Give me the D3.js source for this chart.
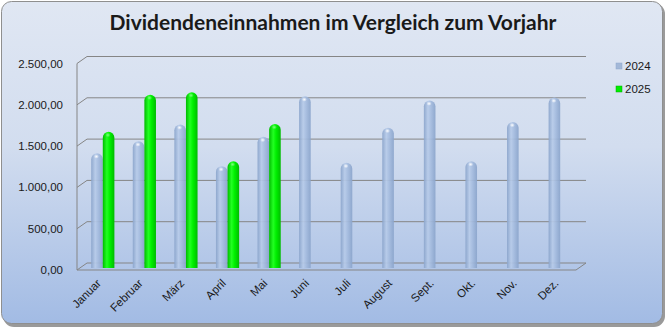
<!DOCTYPE html>
<html>
<head>
<meta charset="utf-8">
<script src="https://cdn.jsdelivr.net/npm/d3@7"></script>
<style>
  html, body { margin: 0; padding: 0; background: #ffffff; }
  svg { display: block; }
  text { font-family: "Liberation Sans", Arial, sans-serif; fill: #1a1a1a; }
</style>
</head>
<body>
<script>
// Monthly dividend income, previous year vs. current year
const months = ["Januar", "Februar", "März", "April", "Mai", "Juni", "Juli", "August", "Sept.", "Okt.", "Nov.", "Dez."];
const series = ["2024", "2025"];
const values2024 = [1370, 1515, 1720, 1215, 1570, 2060, 1255, 1680, 2010, 1275, 1750, 2045];
const values2025 = [1630, 2080, 2110, 1275, 1725, null, null, null, null, null, null, null];
const yTicks = [0, 500, 1000, 1500, 2000, 2500];
const yTickLabels = ["0,00", "500,00", "1.000,00", "1.500,00", "2.000,00", "2.500,00"];

const W = 666, H = 328;
const svg = d3.select("body").append("svg").attr("width", W).attr("height", H);
const defs = svg.append("defs");

// chart background
const bg = defs.append("linearGradient").attr("id", "bg").attr("x1", 0).attr("y1", 0).attr("x2", 0).attr("y2", 1);
bg.append("stop").attr("offset", "0%").attr("stop-color", "#e0e7f3");
bg.append("stop").attr("offset", "45%").attr("stop-color", "#d2ddef");
bg.append("stop").attr("offset", "100%").attr("stop-color", "#a2bbe4");

svg.append("rect").attr("x", 3).attr("y", 3).attr("width", 662).attr("height", 324).attr("rx", 11)
  .attr("fill", "#9a9a9a");
svg.append("rect").attr("x", 1.5).attr("y", 1.5).attr("width", 661).attr("height", 322).attr("rx", 10)
  .attr("fill", "url(#bg)").attr("stroke", "#8f8f8f").attr("stroke-width", 1);

// title
svg.append("text").attr("x", 333).attr("y", 30).attr("text-anchor", "middle")
  .style("font-family", "Lato, 'Open Sans', sans-serif").style("font-weight", "bold").style("font-size", "21px")
  .attr("fill", "#000").text("Dividendeneinnahmen im Vergleich zum Vorjahr");

// pseudo-3D frame: front edge, back wall, and the depth between them
const depthX = 10, depthY = -7;
const frontLeft = 77, frontRight = 576;
const yFront = d3.scaleLinear().domain([0, 2500]).range([270, 63.5]);
const yBack = v => yFront(v) + depthY;
const yMid = v => yFront(v) + depthY / 2;

const grid = svg.append("g").attr("stroke", "#858585").attr("stroke-width", 1).attr("fill", "none");
yTicks.forEach(v => {
  grid.append("path").attr("d",
    `M${frontLeft},${yFront(v)}L${frontLeft + depthX},${yBack(v)}L${frontRight + depthX},${yBack(v)}`);
});
grid.append("path").attr("d", `M${frontLeft},${yFront(0)}V${yFront(2500)}`);
// floor front edge
grid.append("path").attr("d",
  `M${frontLeft},${yFront(0)}H${frontRight}L${frontRight + depthX},${yBack(0)}`);

// y axis labels
svg.append("g").selectAll("text").data(yTicks).join("text")
  .attr("x", 63).attr("y", d => yFront(d)).attr("dy", "0.35em").attr("text-anchor", "end")
  .style("font-size", "11.5px").text((d, i) => yTickLabels[i]);

// category and series scales (bars stand at half depth)
const x = d3.scaleBand().domain(months).range([frontLeft + depthX / 2, frontRight + depthX / 2]);
const bw = x.bandwidth();
const xs = d3.scaleBand().domain(series).range([bw / 2 - 11.6, bw / 2 + 11.6]);
const barW = xs.bandwidth();

// cylinder shading
function cylGrad(id, edge, mid, light) {
  const g = defs.append("linearGradient").attr("id", id).attr("x1", 0).attr("y1", 0).attr("x2", 1).attr("y2", 0);
  g.append("stop").attr("offset", "0%").attr("stop-color", edge);
  g.append("stop").attr("offset", "35%").attr("stop-color", light);
  g.append("stop").attr("offset", "60%").attr("stop-color", mid);
  g.append("stop").attr("offset", "100%").attr("stop-color", edge);
}
cylGrad("c2024", "#8aa4cb", "#a5bcdf", "#b7cbe9");
cylGrad("c2025", "#00bb00", "#00f000", "#22ff22");
const hl = defs.append("radialGradient").attr("id", "hl");
hl.append("stop").attr("offset", "0%").attr("stop-color", "#ffffff").attr("stop-opacity", 1);
hl.append("stop").attr("offset", "100%").attr("stop-color", "#ffffff").attr("stop-opacity", 0);

const rows = [];
months.forEach((m, i) => {
  rows.push({ m, s: "2024", v: values2024[i] });
  if (values2025[i] != null) rows.push({ m, s: "2025", v: values2025[i] });
});

function cylPath(x0, w, top, bottom) {
  const r = w / 2;
  return `M${x0},${bottom}V${top + r}A${r},${r} 0 0 1 ${x0 + w},${top + r}V${bottom}Z`;
}

const bars = svg.append("g").selectAll("g").data(rows).join("g")
  .attr("transform", d => `translate(${x(d.m) + xs(d.s)},0)`);
bars.append("path")
  .attr("d", d => cylPath(0, barW, yMid(d.v), yMid(0) + 1.5))
  .attr("fill", d => `url(#c${d.s})`)
  .attr("opacity", d => d.s === "2024" ? 0.92 : 1);
bars.append("ellipse")
  .attr("cx", barW * 0.45).attr("cy", d => yMid(d.v) + 3.2)
  .attr("rx", 2.6).attr("ry", 2.2)
  .attr("fill", "url(#hl)").attr("opacity", d => d.s === "2024" ? 0.95 : 0.45);

// x axis labels
svg.append("g").selectAll("text").data(months).join("text")
  .attr("transform", d => `translate(${x(d) + bw / 2 - 1},${284}) rotate(-45)`)
  .attr("text-anchor", "end").style("font-size", "11.5px").text(d => d);

// legend
const legend = svg.append("g");
const legendColors = { "2024": "#a3b8d8", "2025": "#00ee00" };
series.forEach((s, i) => {
  const ly = 66 + i * 23;
  legend.append("rect").attr("x", 616).attr("y", ly - 3).attr("width", 6).attr("height", 6)
    .attr("fill", legendColors[s]).attr("stroke", s === "2024" ? "#8ea8cd" : "#00aa00").attr("stroke-width", 0.5);
  legend.append("text").attr("x", 625).attr("y", ly).attr("dy", "0.35em")
    .style("font-size", "11.5px").text(s);
});
</script>
</body>
</html>
